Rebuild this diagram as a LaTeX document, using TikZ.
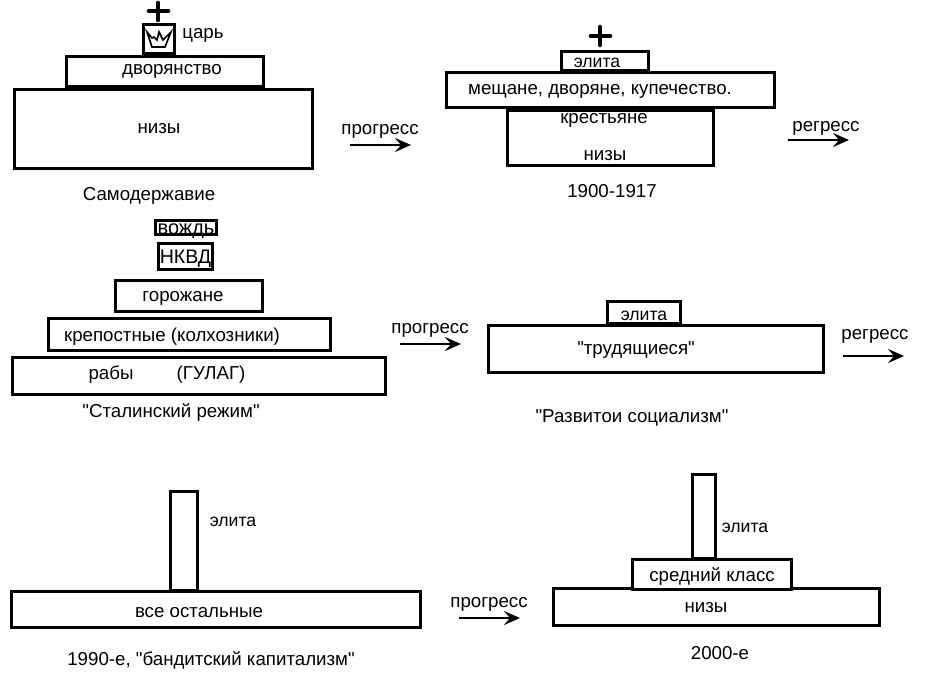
\documentclass[tikz,border=0pt]{standalone}
\usepackage{fontspec}
\setmainfont[Ligatures=TeXOff]{Liberation Sans}
\usetikzlibrary{arrows.meta}
\tikzset{
 box/.style={draw=black,line width=2.6pt,fill=white,inner sep=0pt,anchor=north west},
 lbl/.style={font=\fontsize{18.7}{20}\selectfont,inner sep=0pt,text=black,anchor=base,yshift=-6pt},
 lblsm/.style={lbl,font=\fontsize{17.6}{20}\selectfont},
 arr/.style={line width=2.6pt,-{Stealth[length=16pt,width=14pt,inset=6pt]}},
 heavy/.style={line width=4.6pt,line cap=round},
 thin/.style={line width=1.6pt,line join=miter}
}
\newcommand{\bx}[5]{\node[box,minimum width=#4pt-1pt,minimum height=#5pt-1pt] (#1) at (#2-1,#3-1) {};}
\begin{document}
\begin{tikzpicture}[x=1pt,y=-1pt]
\useasboundingbox (0,0) rectangle (934,696);
% Autocracy
\bx{nizyA}{14}{89}{299}{80}
\bx{dvor}{66}{56}{198}{31}
\bx{crown}{143}{24}{32}{30}
\draw[thin] (147,32) -- (152,38) -- (154,37) -- (157,40) -- (159,32) -- (163,40) -- (166,37) -- (171,32) -- (165,47) -- (152,47) -- cycle;
\coordinate (plusAt) at (158,3); \coordinate (plusAb) at (158,20);
\coordinate (plusAl) at (149,11); \coordinate (plusAr) at (168,11);
\draw[heavy] (plusAt) -- (plusAb);
\draw[heavy] (plusAl) -- (plusAr);
\node[lbl] (tsar) at (203,32) {царь};
\node[lbl] (tdvor) at (172,68) {дворянство};
\node[lbl] (tnizyA) at (159,127) {низы};
\node[lbl] (samo) at (149,194) {Самодержавие};
\node[lbl] (prog1) at (380,128) {прогресс};
\coordinate (a1s) at (350,145); \coordinate (a1e) at (411,145);
\draw[arr] (a1s) -- (a1e);
% 1900-1917
\bx{krest}{507}{110}{207}{56}
\bx{mesch}{446}{72}{329}{36}
\bx{elitaB}{561}{51}{88}{20}
\coordinate (plusBt) at (600,27); \coordinate (plusBb) at (600,45);
\coordinate (plusBl) at (591,36); \coordinate (plusBr) at (610,36);
\draw[heavy] (plusBt) -- (plusBb);
\draw[heavy] (plusBl) -- (plusBr);
\node[lblsm] (telitaB) at (597,61) {элита};
\node[lbl] (tmesch) at (600,88) {мещане, дворяне, купечество.};
\node[lbl] (tkrest) at (604,117) {крестьяне};
\node[lbl] (tnizyB) at (605,154) {низы};
\node[lbl] (y1900) at (612,191) {1900-1917};
\node[lbl] (regr1) at (826,125) {регресс};
\coordinate (a2s) at (788,140); \coordinate (a2e) at (849,140);
\draw[arr] (a2s) -- (a2e);
% Stalin
\bx{vozhd}{155}{220}{62}{15}
\bx{nkvd}{158}{243}{55}{27}
\bx{gor}{115}{280}{148}{32}
\bx{krep}{48}{318}{283}{33}
\bx{raby}{12}{357}{374}{38}
\node[lbl,font=\fontsize{20}{22}\selectfont] (tvozhd) at (186,228) {вождь};
\node[lbl,font=\fontsize{19.6}{22}\selectfont] (tnkvd) at (185.5,257) {НКВД};
\node[lbl] (tgor) at (183,295) {горожане};
\node[lbl] (tkrep) at (172,335) {крепостные (колхозники)};
\node[lbl] (traby) at (111,373) {рабы};
\node[lbl] (tgulag) at (211,373) {(ГУЛАГ)};
\node[lbl] (stal) at (171,411) {"Сталинский режим"};
\node[lbl] (prog2) at (430,327) {прогресс};
\coordinate (a3s) at (400,344); \coordinate (a3e) at (461,344);
\draw[arr] (a3s) -- (a3e);
% Developed socialism
\bx{trud}{488}{325}{336}{48}
\bx{elitaC}{607}{301}{74}{23}
\node[lblsm] (telitaC) at (644,314) {элита};
\node[lbl] (ttrud) at (636,348) {"трудящиеся"};
\node[lbl] (razv) at (632,416) {"Развитои социализм"};
\node[lbl] (regr2) at (875,333) {регресс};
\coordinate (a4s) at (843,356); \coordinate (a4e) at (904,356);
\draw[arr] (a4s) -- (a4e);
% 1990s
\bx{colD}{170}{491}{28}{100}
\bx{vse}{11}{591}{410}{37}
\node[lblsm] (telitaD) at (233,520) {элита};
\node[lbl] (tvse) at (199,611) {все остальные};
\node[lbl] (y1990) at (211,659) {1990-е, "бандитский капитализм"};
\node[lbl] (prog3) at (489,601) {прогресс};
\coordinate (a5s) at (459,618); \coordinate (a5e) at (520,618);
\draw[arr] (a5s) -- (a5e);
% 2000s
\bx{nizyE}{553}{588}{327}{38}
\bx{colE}{692}{474}{24}{85}
\bx{sred}{632}{559}{160}{31}
\node[lblsm] (telitaE) at (745,526) {элита};
\node[lbl] (tsred) at (712,575) {средний класс};
\node[lbl] (tnizyE) at (706,606) {низы};
\node[lbl] (y2000) at (720,653) {2000-е};
\end{tikzpicture}
\end{document}
